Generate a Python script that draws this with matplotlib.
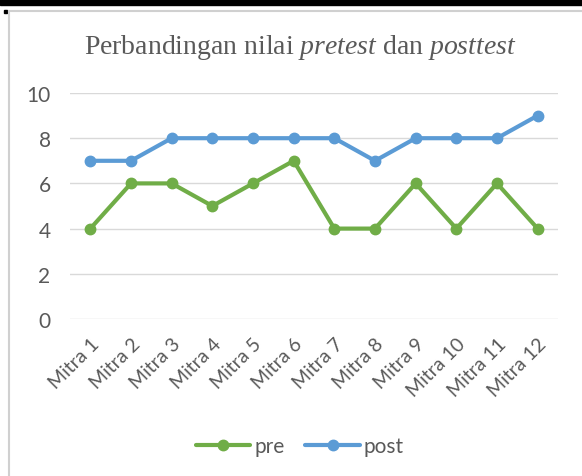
import matplotlib.pyplot as plt
from matplotlib.lines import Line2D
from matplotlib.patches import Rectangle

labels = ["Mitra 1", "Mitra 2", "Mitra 3", "Mitra 4", "Mitra 5", "Mitra 6",
          "Mitra 7", "Mitra 8", "Mitra 9", "Mitra 10", "Mitra 11", "Mitra 12"]
pre = [4, 6, 6, 5, 6, 7, 4, 4, 6, 4, 6, 4]
post = [7, 7, 8, 8, 8, 8, 8, 7, 8, 8, 8, 9]

plt.rcParams["mathtext.fontset"] = "custom"
plt.rcParams["mathtext.rm"] = "Liberation Serif"
plt.rcParams["mathtext.it"] = "Liberation Serif:italic"

W, H = 582, 477
fig = plt.figure(figsize=(W / 100, H / 100), dpi=100)

# frame decorations (black bar on top, grey borders)
fig.add_artist(Rectangle((0, 1 - 6 / H), 1, 6 / H, transform=fig.transFigure, color="black"))
fig.add_artist(Line2D([9 / W, 9 / W], [0, 1 - 12 / H], transform=fig.transFigure, color="#D0D0D0", lw=1.5))
fig.add_artist(Line2D([9 / W, 1], [1 - 12 / H, 1 - 12 / H], transform=fig.transFigure, color="#D0D0D0", lw=1.5))
fig.add_artist(Rectangle((4 / W, 1 - 14 / H), 3 / W, 3 / H, transform=fig.transFigure, color="black"))

ax = fig.add_axes([70 / W, 1 - 320 / H, (558 - 70) / W, (320 - 94) / H])
x = range(len(labels))
ax.plot(x, pre, color="#70AD47", lw=3, marker="o", ms=7.5, label="pre", solid_capstyle="round")
ax.plot(x, post, color="#5B9BD5", lw=3, marker="o", ms=7.5, label="post", solid_capstyle="round")

ax.set_ylim(0, 10)
ax.set_xlim(-0.5, 11.5)
ax.set_yticks([0, 2, 4, 6, 8, 10])
ax.yaxis.grid(True, color="#D9D9D9", lw=1)
ax.set_axisbelow(True)
for s in ax.spines.values():
    s.set_visible(False)
ax.tick_params(length=0, colors="#595959")
ax.tick_params(axis="y", pad=14, labelsize=15)
ax.tick_params(axis="x", pad=11, labelsize=14)
ax.set_xticks(list(x))
ax.set_xticklabels(labels, rotation=45, ha="right", rotation_mode="anchor", family="Lato")
for t in ax.get_yticklabels():
    t.set_family("Lato")

fig.text(300 / W, 1 - 48 / H, "Perbandingan nilai $pretest$ dan $posttest$",
         ha="center", va="center", fontsize=20, color="#595959", family="Liberation Serif")

leg = fig.legend(loc="center", bbox_to_anchor=(300 / W, 1 - 447 / H), ncol=2, frameon=False,
                 prop={"family": "Lato", "size": 15}, handlelength=2.6, columnspacing=1.0,
                 handletextpad=0.2, labelcolor="#595959")

fig.savefig("out.png", dpi=100)
